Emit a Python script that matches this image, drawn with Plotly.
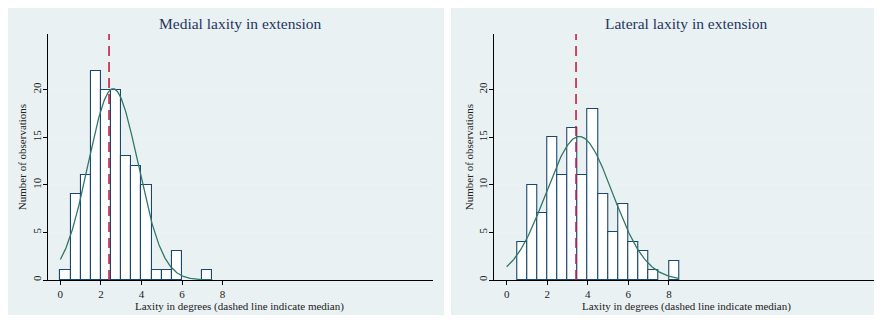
import numpy as np
import plotly.graph_objects as go

# ---- data ----
bin_width = 0.5
bin_start = 0.0
medial_counts = [1, 9, 11, 22, 20, 20, 13, 12, 10, 1, 1, 3, 0, 0, 1]
lateral_counts = [0, 4, 10, 7, 15, 11, 16, 11, 18, 9, 5, 8, 4, 3, 1, 0, 2]
medial_mean, medial_sd, medial_median = 2.6, 1.23, 2.4
lateral_mean, lateral_sd, lateral_median = 3.58, 1.64, 3.42
titles = ["Medial laxity in extension", "Lateral laxity in extension"]
x_ticks = [0, 2, 4, 6, 8]
y_ticks = [0, 5, 10, 15, 20]
x_title = "Laxity in degrees (dashed line indicate median)"
y_title = "Number of observations"

W, H = 882, 322
OFF = 8  # page body margin of the html page
FONT = "Liberation Serif"
BAR_EDGE = "#1a476f"
CURVE = "#2f7867"
MEDIAN = "#c41e45"
PANEL_BG = "#eaf1f3"
GRID = "#edf2f3"
TITLE_COL = "#24365e"

def px_x(v):
    return min(max((v - OFF) / W, 0), 1)

def px_y(v):
    return min(max(1 - (v - OFF) / H, 0), 1)

plot_top, plot_bottom = 34, 280
x_doms = [(48, 432.7), (494.3, 879)]
panels = [(5, 444), (451, 900)]
x_range = [-0.61, 18.36]
y_range = [0, (plot_bottom - plot_top) / 9.515]

fig = go.Figure()
series = [
    (medial_counts, medial_mean, medial_sd, medial_median),
    (lateral_counts, lateral_mean, lateral_sd, lateral_median),
]

shapes = []
annotations = []
for i, (counts, mu, sd, med) in enumerate(series):
    xa = "x" if i == 0 else "x2"
    ya = "y" if i == 0 else "y2"
    centers = [bin_start + bin_width * (k + 0.5) for k in range(len(counts))]
    cx = [c for c, n in zip(centers, counts) if n > 0]
    cy = [n for n in counts if n > 0]
    fig.add_trace(go.Bar(
        x=cx, y=cy, width=bin_width, xaxis=xa, yaxis=ya,
        marker=dict(color="white", line=dict(color=BAR_EDGE, width=1.1)),
        showlegend=False, hoverinfo="skip",
    ))
    n_total = sum(counts)
    x_end = bin_start + bin_width * len(counts)
    xs = np.linspace(bin_start, x_end, 300)
    ys = n_total * bin_width / (sd * np.sqrt(2 * np.pi)) * np.exp(-0.5 * ((xs - mu) / sd) ** 2)
    fig.add_trace(go.Scatter(
        x=xs, y=ys, mode="lines", xaxis=xa, yaxis=ya,
        line=dict(color=CURVE, width=1.3), showlegend=False, hoverinfo="skip",
    ))
    # panel background
    p0, p1 = panels[i]
    shapes.append(dict(type="rect", xref="paper", yref="paper",
                       x0=px_x(p0), x1=px_x(p1), y0=px_y(315), y1=px_y(4),
                       fillcolor=PANEL_BG, line=dict(width=0), layer="below"))
    # median line
    shapes.append(dict(type="line", xref=xa, yref=f"{ya} domain",
                       x0=med, x1=med, y0=0, y1=1,
                       line=dict(color=MEDIAN, width=1.6, dash="10px,6px")))
    d0, d1 = x_doms[i]
    annotations.append(dict(text=titles[i], xref="paper", yref="paper",
                            x=px_x((d0 + d1) / 2), y=px_y(24), showarrow=False,
                            xanchor="center", yanchor="middle",
                            font=dict(family=FONT, size=15.5, color=TITLE_COL)))
    annotations.append(dict(text=x_title, xref="paper", yref="paper",
                            x=px_x(d0 + 192), y=px_y(306), showarrow=False,
                            xanchor="center", yanchor="middle",
                            font=dict(family=FONT, size=11, color="#222")))

axis_common = dict(
    showline=True, linecolor="black", linewidth=1, ticks="outside", ticklen=4,
    tickcolor="black", tickfont=dict(family=FONT, size=11, color="#222"),
    zeroline=False, automargin=False,
)
layout = dict(
    width=W, height=H, margin=dict(l=0, r=0, t=0, b=0),
    paper_bgcolor="white", plot_bgcolor="white", bargap=0,
    shapes=shapes, annotations=annotations, showlegend=False,
)
for i in range(2):
    sfx = "" if i == 0 else "2"
    d0, d1 = x_doms[i]
    layout[f"xaxis{sfx}"] = dict(axis_common, domain=[px_x(d0), px_x(d1)],
                                 range=x_range, tickvals=x_ticks, showgrid=False,
                                 anchor=f"y{sfx}", ticklabelstandoff=0)
    layout[f"yaxis{sfx}"] = dict(axis_common, domain=[px_y(plot_bottom), px_y(plot_top)],
                                 range=y_range, tickvals=y_ticks, tickangle=-90,
                                 showgrid=True, gridcolor=GRID, gridwidth=1,
                                 anchor=f"x{sfx}", ticklabelstandoff=-2,
                                 title=dict(text=y_title, standoff=1,
                                            font=dict(family=FONT, size=11, color="#222")))
fig.update_layout(**layout)
fig.write_html("out.html")
